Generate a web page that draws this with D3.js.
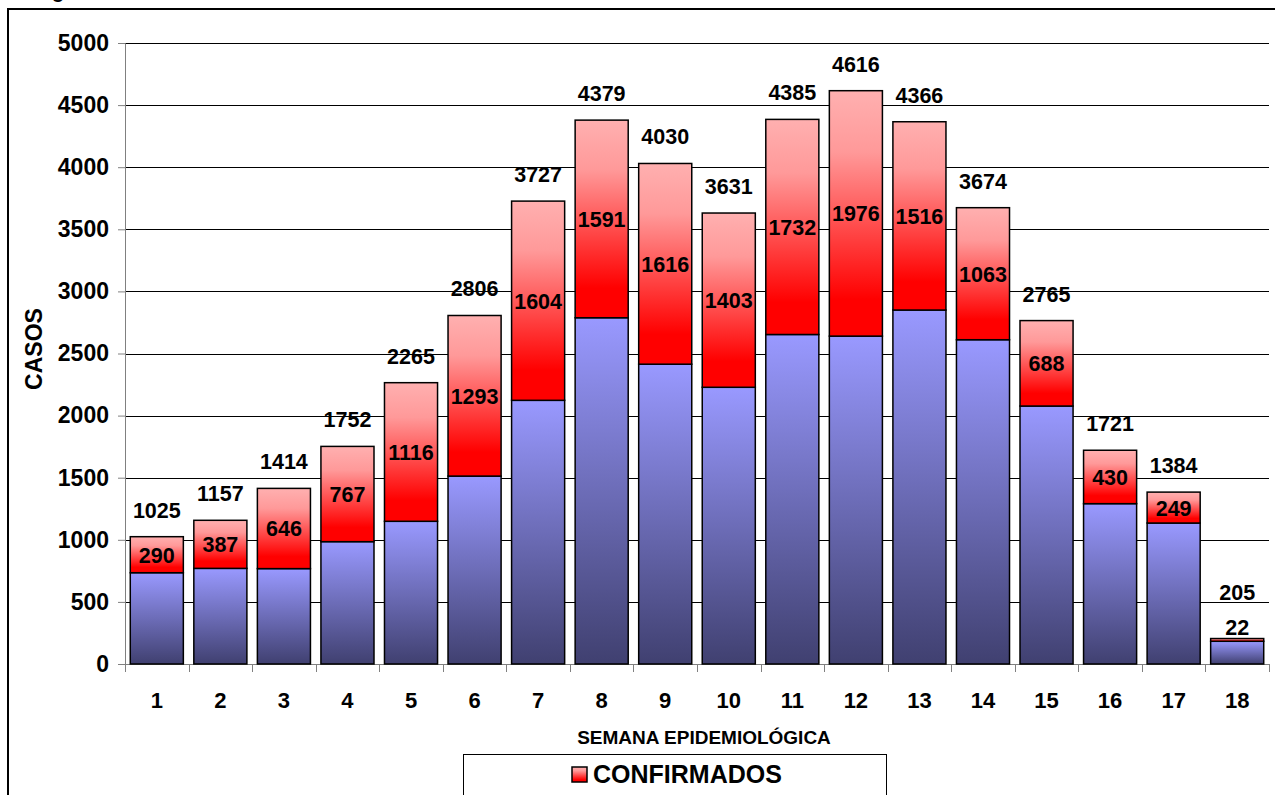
<!DOCTYPE html>
<html>
<head>
<meta charset="utf-8">
<script src="https://cdn.jsdelivr.net/npm/d3@7"></script>
<style>
    body { margin: 0; background: #fff; }
    svg text { font-family: "Liberation Sans", Arial, sans-serif; font-weight: bold; fill: #000; }
</style>
</head>
<body>
<div id="chart"></div>
<script>
// data
const semanas = ["1","2","3","4","5","6","7","8","9","10","11","12","13","14","15","16","17","18"];
const totales = [1025,1157,1414,1752,2265,2806,3727,4379,4030,3631,4385,4616,4366,3674,2765,1721,1384,205];
const confirmados = [290,387,646,767,1116,1293,1604,1591,1616,1403,1732,1976,1516,1063,688,430,249,22];
const yTicks = [0,500,1000,1500,2000,2500,3000,3500,4000,4500,5000];

const width = 1275, height = 795;
const margin = {top: 43, right: 6, bottom: 131, left: 125};
const plotW = width - margin.left - margin.right;
const plotH = height - margin.top - margin.bottom;

const rows = semanas.map((s,i)=>({
    semana: s,
    total: totales[i],
    confirmados: confirmados[i],
    otros: totales[i] - confirmados[i]
}));

const root = d3.select("#chart").append("svg")
    .attr("width", width)
    .attr("height", height);

// gradients
const defs = root.append("defs");
const blueGrad = defs.append("linearGradient").attr("id","blueGrad")
    .attr("x1",0).attr("y1",0).attr("x2",0).attr("y2",1);
blueGrad.append("stop").attr("offset","0%").attr("stop-color","#9999ff");
blueGrad.append("stop").attr("offset","100%").attr("stop-color","#404070");
const redGrad = defs.append("linearGradient").attr("id","redGrad")
    .attr("x1",0).attr("y1",0).attr("x2",0).attr("y2",1);
redGrad.append("stop").attr("offset","0%").attr("stop-color","#ffb0b0");
redGrad.append("stop").attr("offset","25%").attr("stop-color","#ff9999");
redGrad.append("stop").attr("offset","85%").attr("stop-color","#ff0000");
redGrad.append("stop").attr("offset","100%").attr("stop-color","#ff0000");

// outer frame (cut off at right and bottom)
root.append("rect")
    .attr("x",8).attr("y",9)
    .attr("width",width + 10).attr("height",height + 10)
    .attr("fill","none").attr("stroke","#000").attr("stroke-width",2);

// descender of a clipped title above the frame
root.append("text")
    .attr("x",52).attr("y",-2)
    .style("font-size","20px")
    .text("g");

const svg = root.append("g")
    .attr("transform","translate(" + margin.left + "," + margin.top + ")");

const xScale = d3.scaleBand().domain(semanas).range([0,plotW]).paddingInner(0.165).paddingOuter(0.083);
const yScale = d3.scaleLinear().domain([0,5000]).range([plotH,0]);

// gridlines
svg.append("g").selectAll("line")
    .data(yTicks.filter(t=>t>0))
    .join("line")
    .attr("x1",0).attr("x2",plotW)
    .attr("y1",d=>Math.round(yScale(d))+0.5)
    .attr("y2",d=>Math.round(yScale(d))+0.5)
    .attr("stroke","#000").attr("stroke-width",1);

// y axis
const yAxisG = svg.append("g").attr("class","yAxisG")
    .call(d3.axisLeft(yScale).tickValues(yTicks).tickSize(7).tickPadding(9).tickFormat(d3.format("d")));
yAxisG.select(".domain").attr("stroke","#808080");
yAxisG.selectAll(".tick line").attr("stroke","#808080");
yAxisG.selectAll(".tick text").style("font-size","23px").attr("fill","#000");

// x axis: ticks between categories
const xAxisG = svg.append("g").attr("class","xAxisG")
    .attr("transform","translate(0," + plotH + ")");
xAxisG.append("line").attr("x1",0).attr("x2",plotW).attr("y1",0.5).attr("y2",0.5).attr("stroke","#808080");
const step = xScale.step();
xAxisG.selectAll(".sep")
    .data(d3.range(semanas.length + 1))
    .join("line")
    .attr("class","sep")
    .attr("x1",i=>Math.round(i*step)+0.5).attr("x2",i=>Math.round(i*step)+0.5)
    .attr("y1",0).attr("y2",8)
    .attr("stroke","#808080");
xAxisG.selectAll(".xlab")
    .data(semanas)
    .join("text")
    .attr("class","xlab")
    .attr("x",d=>xScale(d) + xScale.bandwidth()/2)
    .attr("y",44)
    .attr("text-anchor","middle")
    .style("font-size","22px")
    .text(d=>d);

// bars
const barG = svg.append("g").selectAll(".barG")
    .data(rows)
    .join("g")
    .attr("class","barG");

barG.append("rect")
    .attr("x",d=>xScale(d.semana))
    .attr("y",d=>yScale(d.otros))
    .attr("width",xScale.bandwidth())
    .attr("height",d=>plotH - yScale(d.otros))
    .attr("fill","url(#blueGrad)")
    .attr("stroke","#000").attr("stroke-width",1.5);

barG.append("rect")
    .attr("x",d=>xScale(d.semana))
    .attr("y",d=>yScale(d.total))
    .attr("width",xScale.bandwidth())
    .attr("height",d=>yScale(d.otros) - yScale(d.total))
    .attr("fill","url(#redGrad)")
    .attr("stroke","#000").attr("stroke-width",1.5);

// confirmed labels: centered in red segment, or on top if it is too thin
const confBaseline = d=>{
    const top = yScale(d.total), bottom = yScale(d.otros);
    if(bottom - top < 20) return top - 4;
    return (top + bottom)/2 + 8;
};
barG.append("text")
    .attr("x",d=>xScale(d.semana) + xScale.bandwidth()/2)
    .attr("y",d=>confBaseline(d))
    .attr("text-anchor","middle")
    .style("font-size","21.5px")
    .text(d=>d.confirmados);

barG.append("text")
    .attr("x",d=>xScale(d.semana) + xScale.bandwidth()/2)
    .attr("y",d=>Math.min(yScale(d.total) - 19, confBaseline(d) - 35))
    .attr("text-anchor","middle")
    .style("font-size","21.5px")
    .text(d=>d.total);

// axis titles
svg.append("text")
    .attr("transform","rotate(-90)")
    .attr("x",-306)
    .attr("y",-83)
    .attr("text-anchor","middle")
    .style("font-size","23px")
    .text("CASOS");

svg.append("text")
    .attr("x",(xScale("9") + xScale("10") + xScale.bandwidth())/2 + 7)
    .attr("y",plotH + 80)
    .attr("text-anchor","middle")
    .style("font-size","19px")
    .text("SEMANA EPIDEMIOLÓGICA");

// legend
const legend = root.append("g").attr("transform","translate(463,754)");
legend.append("rect")
    .attr("x",0.5).attr("y",0.5).attr("width",423).attr("height",60)
    .attr("fill","#fff").attr("stroke","#000").attr("stroke-width",1);
legend.append("rect")
    .attr("x",109).attr("y",13).attr("width",15).attr("height",15)
    .attr("fill","url(#redGrad)").attr("stroke","#000").attr("stroke-width",1.5);
legend.append("text")
    .attr("x",130).attr("y",29)
    .style("font-size","25px")
    .text("CONFIRMADOS");
</script>
</body>
</html>
